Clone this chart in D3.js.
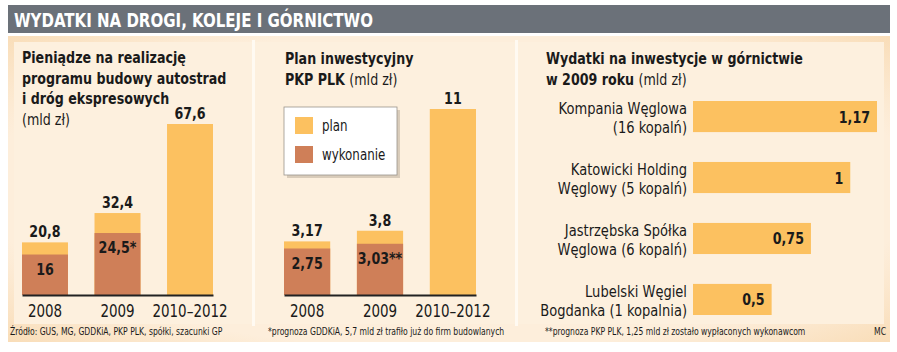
<!DOCTYPE html>
<html>
  <head>
    <meta charset="utf-8">
    <title>Wydatki na drogi, koleje i górnictwo</title>
    <script src="https://d3js.org/d3.v7.min.js"></script>
    <style>
      body { margin: 0; background: #fff; }
      svg text { font-family: "DejaVu Sans Condensed", "Liberation Sans Narrow", sans-serif; }
    </style>
  </head>
  <body>
    <svg width="897" height="352"></svg>

    <script>
      // data
      const years = ["2008", "2009", "2010–2012"];
      const roadPlan = [20.8, 32.4, 67.6];
      const roadDone = [16, 24.5, null];
      const roadPlanLabels = ["20,8", "32,4", "67,6"];
      const roadDoneLabels = ["16", "24,5*", ""];

      const railPlan = [3.17, 3.8, 11];
      const railDone = [2.75, 3.03, null];
      const railPlanLabels = ["3,17", "3,8", "11"];
      const railDoneLabels = ["2,75", "3,03**", ""];

      const mines = [
        ["Kompania Węglowa", "(16 kopalń)"],
        ["Katowicki Holding", "Węglowy (5 kopalń)"],
        ["Jastrzębska Spółka", "Węglowa (6 kopalń)"],
        ["Lubelski Węgiel", "Bogdanka (1 kopalnia)"]
      ];
      const mineValues = [1.17, 1, 0.75, 0.5];
      const mineLabels = ["1,17", "1", "0,75", "0,5"];

      const planColor = "#fcc160";
      const doneColor = "#cf7f58";
      const ink = "#1a1a1a";
      const SX = 0.88; // squeeze text a bit, the original font is condensed

      const svg = d3.select("svg");

      // text in a squeezed group, returns the text node
      function T(parent, x, y, size, str, anchor, bold) {
        const t = parent.append("g").attr("transform", `translate(${x},${y}) scale(${SX},1)`)
          .append("text").attr("font-size", size).attr("fill", ink)
          .attr("text-anchor", anchor || "start")
          .attr("font-weight", bold ? "bold" : "normal");
        if (str != null) t.text(str);
        return t;
      }

      // background
      const defs = svg.append("defs");
      const grad = defs.append("radialGradient").attr("id", "bg")
        .attr("cx", "50%").attr("cy", "50%").attr("r", "75%");
      grad.append("stop").attr("offset", "70%").attr("stop-color", "#fdeedb");
      grad.append("stop").attr("offset", "100%").attr("stop-color", "#f8d9b0");

      svg.append("rect").attr("x", 8).attr("y", 5).attr("width", 882).attr("height", 28)
        .attr("fill", "#6b7179");
      T(svg, 14, 27, 19, "WYDATKI NA DROGI, KOLEJE I GÓRNICTWO", "start", true).attr("fill", "#fff");

      svg.append("rect").attr("x", 8).attr("y", 36).attr("width", 882).attr("height", 306)
        .attr("fill", "url(#bg)");
      svg.append("rect").attr("x", 14).attr("y", 42).attr("width", 870).attr("height", 282)
        .attr("fill", "#fdf0de");

      [252, 515].forEach(x => {
        svg.append("rect").attr("x", x).attr("y", 40).attr("width", 3).attr("height", 286)
          .attr("fill", "#fffaf2");
      });

      function title(x, y0, step, lines) {
        lines.forEach((ln, i) => {
          const t = T(svg, x, y0 + i * step, 16);
          ln.forEach(part => {
            t.append("tspan").attr("font-weight", part[1] ? "bold" : "normal").text(part[0]);
          });
        });
      }

      title(22, 63, 20.5, [
        [["Pieniądze na realizację", 1]],
        [["programu budowy autostrad", 1]],
        [["i dróg ekspresowych", 1]],
        [["(mld zł)", 0]]
      ]);
      title(285, 64, 21, [
        [["Plan inwestycyjny", 1]],
        [["PKP PLK ", 1], ["(mld zł)", 0]]
      ]);
      title(546, 64, 21, [
        [["Wydatki na inwestycje w górnictwie", 1]],
        [["w 2009 roku ", 1], ["(mld zł)", 0]]
      ]);

      // columns: plan behind, done in front
      function columns(x0, x1, yTop, plan, done, planLbl, doneLbl) {
        const base = 295;
        const x = d3.scaleBand().domain(years).range([x0, x1]).paddingInner(0.366);
        const y = d3.scaleLinear().domain([0, d3.max(plan)]).range([base, yTop]);
        const g = svg.append("g");

        g.selectAll(".plan").data(plan).join("rect").attr("class", "plan")
          .attr("x", (d, i) => x(years[i])).attr("width", x.bandwidth())
          .attr("y", d => y(d)).attr("height", d => base - y(d))
          .attr("fill", planColor);
        g.selectAll(".done").data(done.filter(d => d != null)).join("rect").attr("class", "done")
          .attr("x", (d, i) => x(years[i])).attr("width", x.bandwidth())
          .attr("y", d => y(d)).attr("height", d => base - y(d))
          .attr("fill", doneColor);

        plan.forEach((d, i) => {
          const cx = x(years[i]) + x.bandwidth() / 2;
          T(g, cx, y(d) - 5, 16, planLbl[i], "middle", true);
          if (done[i] != null) T(g, cx, y(done[i]) + 20, 16, doneLbl[i], "middle", true);
        });

        const ax = g.append("g").attr("transform", `translate(0,${base})`)
          .call(d3.axisBottom(x).tickSize(0).tickPadding(10));
        ax.select(".domain").attr("stroke", "#222").attr("stroke-width", 2);
        ax.selectAll("text").attr("font-size", 17).attr("fill", ink)
          .attr("font-family", "DejaVu Sans Condensed, sans-serif")
          .attr("transform", `scale(${SX},1)`);
      }

      columns(22, 213, 124, roadPlan, roadDone, roadPlanLabels, roadDoneLabels);
      columns(284, 476, 109, railPlan, railDone, railPlanLabels, railDoneLabels);

      // legend
      const lg = svg.append("g");
      lg.append("rect").attr("x", 287).attr("y", 110).attr("width", 113).attr("height", 68)
        .attr("fill", "#d9ccba");
      lg.append("rect").attr("x", 284).attr("y", 107).attr("width", 113).attr("height", 68)
        .attr("fill", "#fff").attr("stroke", "#9a948c").attr("stroke-width", 0.8);
      [["plan", planColor], ["wykonanie", doneColor]].forEach((it, i) => {
        lg.append("rect").attr("x", 295).attr("y", 117 + i * 29).attr("width", 18).attr("height", 17)
          .attr("fill", it[1]);
        T(lg, 322, 131 + i * 29, 15, it[0]);
      });

      // horizontal bars
      const hy = d3.scaleBand().domain(mines.map(d => d[0])).range([101, 315]).paddingInner(0.49);
      const hx = d3.scaleLinear().domain([0, d3.max(mineValues)]).range([693, 877]);
      const hg = svg.append("g");
      hg.selectAll("rect").data(mineValues).join("rect")
        .attr("x", hx(0)).attr("y", (d, i) => hy(mines[i][0]))
        .attr("width", d => hx(d) - hx(0)).attr("height", hy.bandwidth())
        .attr("fill", planColor);
      mines.forEach((m, i) => {
        const top = hy(m[0]);
        T(hg, hx(mineValues[i]) - 7, top + hy.bandwidth() / 2 + 6, 16, mineLabels[i], "end", true);
        m.forEach((ln, j) => T(hg, 687, top + 13 + j * 19, 16.5, ln, "end"));
      });

      // footer
      const foot = [
        [10, "start", "Źródło: GUS, MG, GDDKiA, PKP PLK, spółki, szacunki GP"],
        [268, "start", "*prognoza GDDKiA, 5,7 mld zł trafiło już do firm budowlanych"],
        [545, "start", "**prognoza PKP PLK, 1,25 mld zł zostało wypłaconych wykonawcom"],
        [886, "end", "MC"]
      ];
      foot.forEach(f => T(svg, f[0], 335, 9.7, f[2], f[1]));
    </script>
  </body>
</html>
